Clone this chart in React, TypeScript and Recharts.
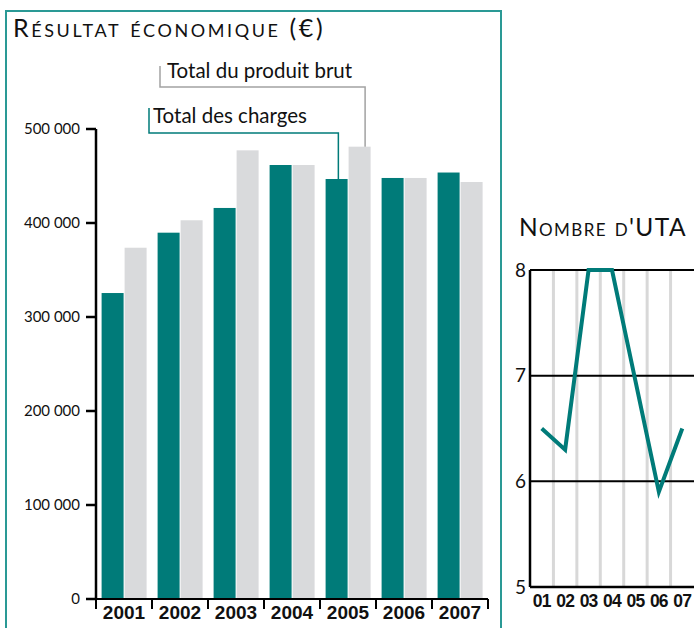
import { Bar, BarChart, Line, LineChart, ReferenceLine, XAxis, YAxis } from "recharts";

// Résultat économique (€)
const years = ["2001", "2002", "2003", "2004", "2005", "2006", "2007"];
const totalCharges = [325500, 389700, 416000, 461700, 446800, 447900, 453700];
const produitBrut = [373700, 402900, 477300, 461700, 481200, 447900, 443600];
const euroTicks = [0, 100000, 200000, 300000, 400000, 500000];
const calloutYear = "2005";

// Nombre d'UTA
const utaYears = ["01", "02", "03", "04", "05", "06", "07"];
const utaValues = [6.5, 6.3, 8, 8, 6.95, 5.9, 6.5];
const utaTicks = [5, 6, 7, 8];

const TEAL = "#007b79";
const GREY = "#d9dadc";
const FRAME = "#2a9995";
const FONT = "Lato, 'Open Sans', sans-serif";
const BOLD_FONT = "'Liberation Sans', Arial, sans-serif";

const BAR_PLOT_W = 392;
const HALF_BAND = BAR_PLOT_W / years.length / 2;

const barData = years.map((year, i) => ({
  year,
  charges: totalCharges[i],
  produit: produitBrut[i],
}));

const utaData = utaYears.map((label, i) => ({ x: i + 1, label, uta: utaValues[i] }));
const utaXTicks = utaYears.map((_, i) => i + 1);
const utaBounds = utaYears.slice(1).map((_, i) => i + 1.5);

const fmt = (v: number) => String(v).replace(/\B(?=(\d{3})+(?!\d))/g, " ");

const YearTick = ({ x, y, payload, index }: any) => (
  <g>
    <line x1={x - HALF_BAND} x2={x - HALF_BAND} y1={y} y2={y + 10} stroke="#000" strokeWidth={2} />
    {index === years.length - 1 && (
      <line x1={x + HALF_BAND} x2={x + HALF_BAND} y1={y} y2={y + 10} stroke="#000" strokeWidth={2} />
    )}
    <text x={x} y={y + 20} textAnchor="middle" fontFamily={BOLD_FONT} fontWeight="bold" fontSize={19} fill="#111">
      {payload.value}
    </text>
  </g>
);

const ChargesShape = (props: any) => {
  const { x, y, width, height, fill, payload } = props;
  const px = x + width * 0.58;
  return (
    <g>
      <rect x={x} y={y} width={width} height={height} fill={fill} />
      {payload?.year === calloutYear && (
        <g>
          <polyline points={`${px},${y} ${px},133 149,133 149,108`} fill="none" stroke={TEAL} strokeWidth={1.5} />
          <text x={153} y={123} fontFamily={FONT} fontSize={20.5} fill="#111">
            Total des charges
          </text>
        </g>
      )}
    </g>
  );
};

const ProduitShape = (props: any) => {
  const { x, y, width, height, fill, payload } = props;
  const px = x + width * 0.75;
  return (
    <g>
      <rect x={x} y={y} width={width} height={height} fill={fill} />
      {payload?.year === calloutYear && (
        <g>
          <polyline points={`${px},${y} ${px},87 160,87 160,66`} fill="none" stroke="#a2a2a2" strokeWidth={1.5} />
          <text x={167} y={78} fontFamily={FONT} fontSize={20.5} fill="#111">
            Total du produit brut
          </text>
        </g>
      )}
    </g>
  );
};

export default function App() {
  return (
    <div style={{ position: "absolute", left: 0, top: 0, width: 695, height: 628, overflow: "hidden", background: "#fff" }}>
      <svg width={695} height={628} style={{ position: "absolute", left: 0, top: 0 }}>
        <polyline points="6,628 6,11 501,11 501,628" fill="none" stroke={FRAME} strokeWidth={2} />
        <text x={13} y={37} fontFamily={FONT} fontSize={25} letterSpacing={2.6} fill="#111" style={{ fontVariant: "small-caps" }}>
          Résultat économique (€)
        </text>
        <text x={519} y={236} fontFamily={FONT} fontSize={24.5} letterSpacing={1.4} fill="#111" style={{ fontVariant: "small-caps" }}>
          Nombre d'UTA
        </text>
      </svg>

      <div style={{ position: "absolute", left: 0, top: 0 }}>
        <BarChart
          width={500}
          height={628}
          data={barData}
          margin={{ top: 129, right: 12, bottom: 0, left: 16 }}
          barCategoryGap="10%"
          barGap={1}
        >
          <XAxis
            dataKey="year"
            height={29}
            tickLine={false}
            tickSize={0}
            tickMargin={0}
            axisLine={{ stroke: "#000", strokeWidth: 2 }}
            tick={<YearTick />}
            interval={0}
          />
          <YAxis
            width={80}
            domain={[0, 500000]}
            ticks={euroTicks}
            tickFormatter={fmt}
            tickSize={10}
            tickMargin={6}
            axisLine={{ stroke: "#000", strokeWidth: 2.5 }}
            tickLine={{ stroke: "#000", strokeWidth: 2.5 }}
            tick={{ fontFamily: FONT, fontSize: 15, fill: "#111" }}
          />
          <Bar dataKey="charges" fill={TEAL} shape={<ChargesShape />} isAnimationActive={false} />
          <Bar dataKey="produit" fill={GREY} shape={<ProduitShape />} isAnimationActive={false} />
        </BarChart>
      </div>

      <div style={{ position: "absolute", left: 500, top: 0 }}>
        <LineChart width={195} height={628} data={utaData} margin={{ top: 270, right: 1, bottom: 0, left: 0 }}>
          <XAxis
            type="number"
            dataKey="x"
            domain={[0.5, 7.5]}
            ticks={utaXTicks}
            interval={0}
            tickFormatter={(v: number) => utaYears[v - 1]}
            height={41}
            tickLine={false}
            tickSize={0}
            tickMargin={8}
            axisLine={{ stroke: "#000", strokeWidth: 2.5 }}
            tick={{ fontFamily: BOLD_FONT, fontWeight: "bold", fontSize: 17.5, fill: "#111", letterSpacing: -0.8 }}
          />
          <YAxis
            domain={[5, 8]}
            ticks={utaTicks}
            width={30}
            tickLine={false}
            tickSize={0}
            tickMargin={4}
            axisLine={{ stroke: "#000", strokeWidth: 2.5 }}
            tick={{ fontFamily: FONT, fontSize: 19, fill: "#111" }}
          />
          {utaBounds.map((b) => (
            <ReferenceLine key={`v${b}`} x={b} stroke="#d8d8d8" strokeWidth={3} />
          ))}
          {utaTicks.slice(1).map((t) => (
            <ReferenceLine key={`h${t}`} y={t} stroke="#000" strokeWidth={2} />
          ))}
          <Line dataKey="uta" stroke={TEAL} strokeWidth={4} dot={false} isAnimationActive={false} />
        </LineChart>
      </div>
    </div>
  );
}
